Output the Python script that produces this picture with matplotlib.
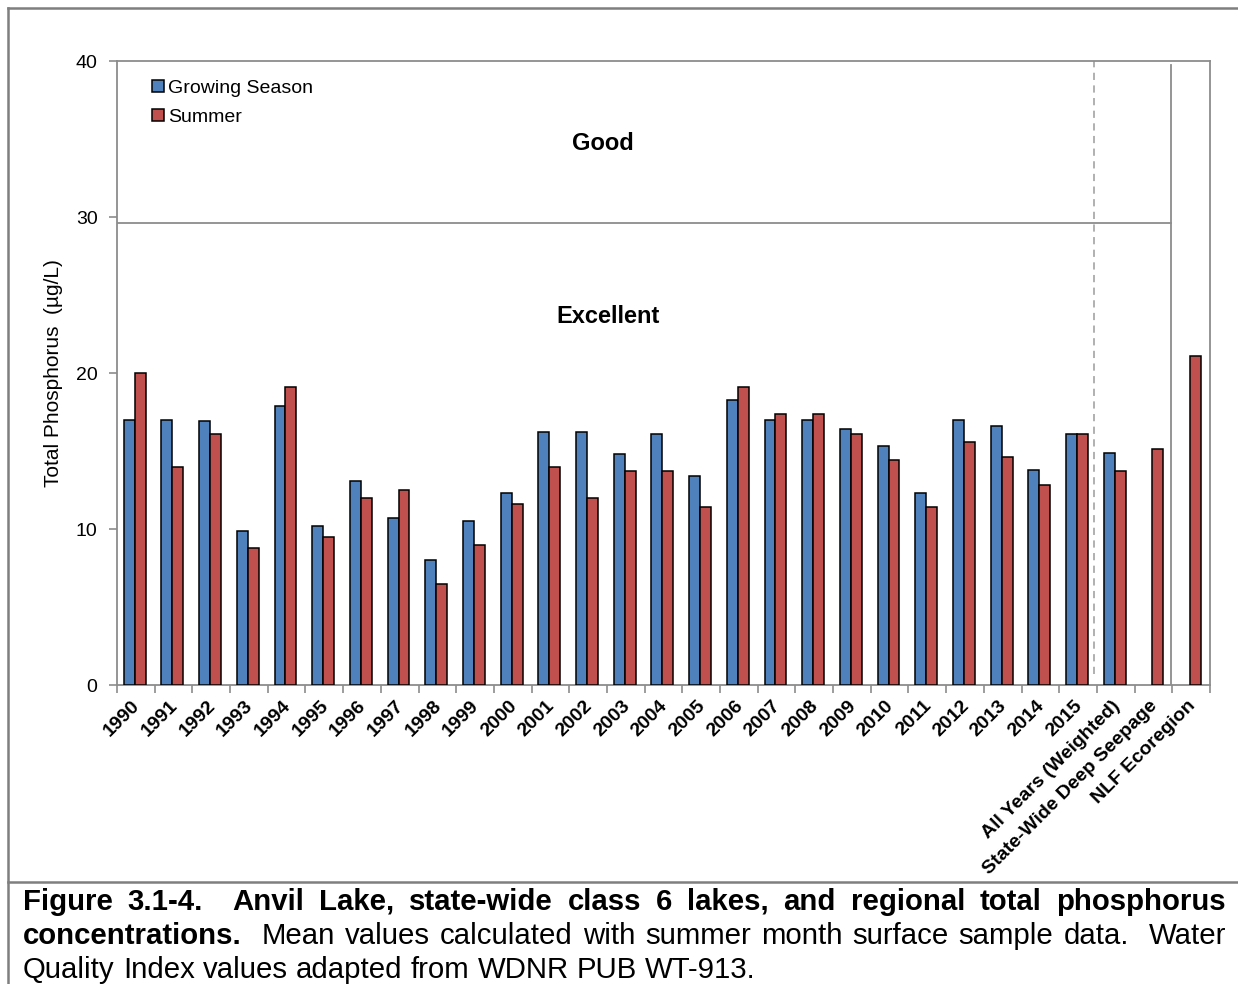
import matplotlib
matplotlib.use("Agg")
import matplotlib.pyplot as plt
from matplotlib.lines import Line2D
import numpy as np

plt.rcParams['font.family'] = ['Liberation Sans', 'DejaVu Sans']

W, H = 1238, 984

categories = [str(y) for y in range(1990, 2016)] + [
    "All Years (Weighted)", "State-Wide Deep Seepage", "NLF Ecoregion"]
growing = [17.0, 17.0, 16.9, 9.9, 17.9, 10.2, 13.1, 10.7, 8.0, 10.5,
           12.3, 16.2, 16.2, 14.8, 16.1, 13.4, 18.3, 17.0, 17.0, 16.4,
           15.3, 12.3, 17.0, 16.6, 13.8, 16.1, 14.9, np.nan, np.nan]
summer = [20.0, 14.0, 16.1, 8.8, 19.1, 9.5, 12.0, 12.5, 6.5, 9.0,
          11.6, 14.0, 12.0, 13.7, 13.7, 11.4, 19.1, 17.4, 17.4, 16.1,
          14.4, 11.4, 15.6, 14.6, 12.8, 16.1, 13.7, 15.1, 21.1]
good_limit = 29.6
blue = "#4F81BD"
red = "#C0504D"
grey = "#8C8C8C"


def fx(px):
    return px / W


def fy(py):
    return 1 - py / H


fig = plt.figure(figsize=(W / 100, H / 100), dpi=100)
ax = fig.add_axes([fx(117), fy(685), (1210 - 117) / W, (685 - 61) / H])

x = np.arange(len(categories))
bw = 0.29
ax.bar(x - bw / 2 - 0.03, growing, bw, color=blue, edgecolor="black",
       linewidth=1.1, label="Growing Season", zorder=3)
ax.bar(x + bw / 2 - 0.03, summer, bw, color=red, edgecolor="black",
       linewidth=1.1, label="Summer", zorder=3)

ax.set_xlim(-0.5, len(categories) - 0.5)
ax.set_ylim(0, 40)

# water quality index boundaries
ax.plot([-0.5, 27.46], [good_limit, good_limit], color=grey, lw=1.3, zorder=2)
ax.plot([27.46, 27.46], [0, 39.75], color=grey, lw=1.3, zorder=2)
ax.plot([25.43, 25.43], [0.7, 40], color="#AAAAAA", lw=1.3,
        ls=(0, (4, 3)), zorder=2)

ax.text(12.4, 34.7, "Good", ha="center", va="center", fontsize=17,
        fontweight="bold")
ax.text(12.53, 23.6, "Excellent", ha="center", va="center", fontsize=17,
        fontweight="bold")

for s in ax.spines.values():
    s.set_color(grey)
    s.set_linewidth(1.3)

ax.set_yticks([0, 10, 20, 30, 40])
ax.tick_params(axis="y", direction="out", length=6, width=1.2, color=grey,
               labelsize=14, pad=8)
ax.set_xticks(x - 0.12)
ax.set_xticklabels(categories, rotation=45, ha="right", va="top",
                   rotation_mode="anchor", fontsize=14, fontweight="bold")
ax.set_xticks(np.arange(-0.5, len(categories)), minor=True)
ax.tick_params(axis="x", which="major", length=0, pad=9)
ax.tick_params(axis="x", which="minor", direction="out", length=6,
               width=1.2, color=grey)
ax.set_ylabel("Total Phosphorus  (µg/L)", fontsize=15, labelpad=9)

ax.legend(loc="upper left", bbox_to_anchor=(0.023, 0.985), frameon=False,
          fontsize=14, handlelength=0.6, handleheight=0.6,
          handletextpad=0.25, labelspacing=0.6, borderpad=0)

# outer frame and caption separator
for xs, ys in [([8, 8], [8, H]), ([8, W], [8, 8]), ([8, W], [882, 882])]:
    fig.add_artist(Line2D([fx(v) for v in xs], [fy(v) for v in ys],
                          color="#7F7F7F", lw=1.8))

# justified caption
cap_size = 21.2
renderer = fig.canvas.get_renderer()


def justify(parts, py, x0=23, x1=1226, justified=True):
    # parts: list of (word, weight, spaces after)
    texts = []
    widths = []
    for word, weight, _ in parts:
        t = fig.text(0, fy(py), word, fontsize=cap_size, fontweight=weight,
                     va="center", ha="left")
        texts.append(t)
        widths.append(t.get_window_extent(renderer).width)
    n_sp = sum(p[2] for p in parts[:-1])
    if justified:
        gap = (x1 - x0 - sum(widths)) / n_sp
    else:
        gap = 0.278 * cap_size * 100 / 72
    pos = x0
    for t, w, p in zip(texts, widths, parts):
        t.set_x(fx(pos))
        pos += w + gap * p[2]


def words(s, weight):
    out = []
    toks = s.split(" ")
    i = 0
    while i < len(toks):
        tok = toks[i]
        sp = 1
        while i + 1 < len(toks) and toks[i + 1] == "":
            sp += 1
            i += 1
        out.append((tok, weight, sp))
        i += 1
    return out


line1 = words("Figure 3.1-4.  Anvil Lake, state-wide class 6 lakes, and regional total phosphorus", "bold")
line2 = [("concentrations.", "bold", 2)] + words(
    "Mean values calculated with summer month surface sample data.  Water", "normal")
line3 = words("Quality Index values adapted from WDNR PUB WT-913.", "normal")
justify(line1, 902)
justify(line2, 936)
justify(line3, 970, justified=False)

fig.savefig("out.png", dpi=100)
